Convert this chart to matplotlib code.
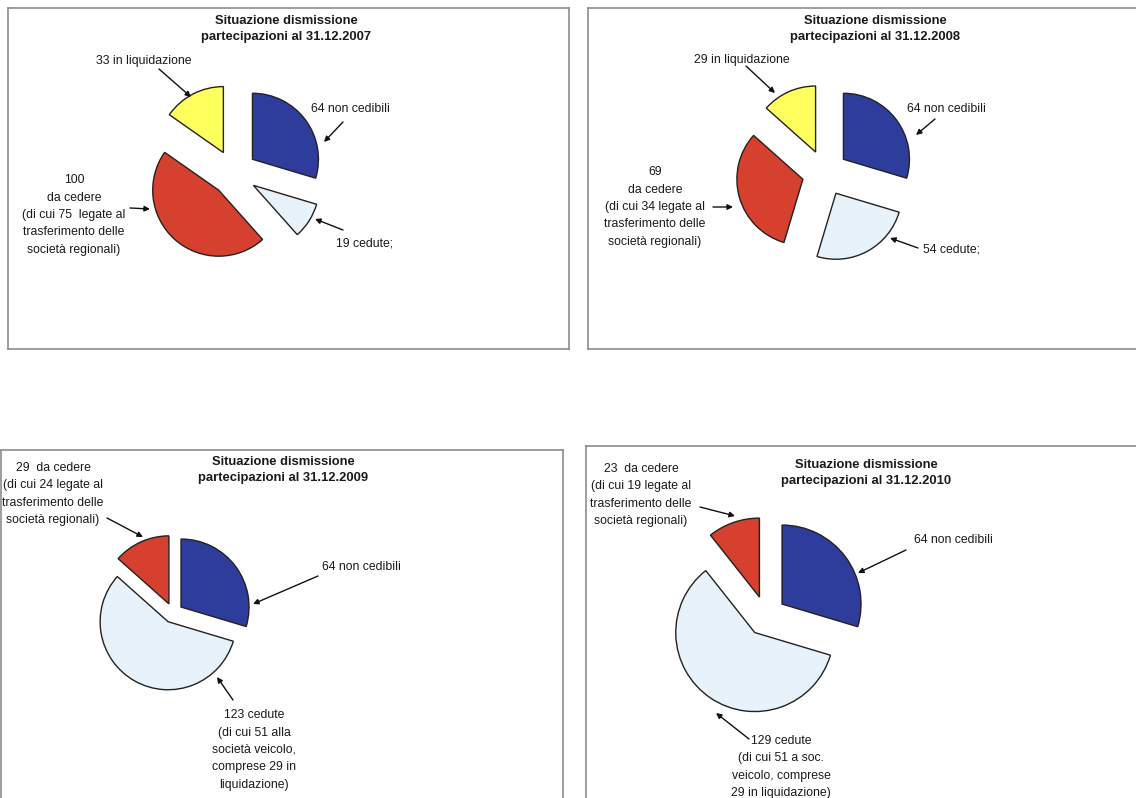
import matplotlib
matplotlib.use('Agg')
import matplotlib.pyplot as plt

plt.rcParams['font.family'] = ['Liberation Sans', 'DejaVu Sans']

W, H = 1136, 798

# data
years = ['2007', '2008', '2009', '2010']
non_cedibili = [64, 64, 64, 64]
cedute = [19, 54, 123, 129]
da_cedere = [100, 69, 29, 23]
in_liquidazione = [33, 29, 0, 0]

colors = ['#2E3D9C', '#E8F2FA', '#D6402E', '#FFFF5E']

label_non = ['64 non cedibili'] * 4
label_cedute = [
    '19 cedute;',
    '54 cedute;',
    '123 cedute\n(di cui 51 alla\nsocietà veicolo,\ncomprese 29 in\nliquidazione)',
    '129 cedute\n(di cui 51 a soc.\nveicolo, comprese\n29 in liquidazione)',
]
label_cedere = [
    '100\nda cedere\n(di cui 75  legate al\ntrasferimento delle\nsocietà regionali)',
    '69\nda cedere\n(di cui 34 legate al\ntrasferimento delle\nsocietà regionali)',
    '29  da cedere\n(di cui 24 legate al\ntrasferimento delle\nsocietà regionali)',
    '23  da cedere\n(di cui 19 legate al\ntrasferimento delle\nsocietà regionali)',
]
label_liq = ['33 in liquidazione', '29 in liquidazione', '', '']

# layout in pixels: panel box, pie centre, radius, explode offset
boxes = [(8, 8, 569, 349), (588, 8, 1140, 349),
         (1, 450, 563, 805), (586, 446, 1140, 805)]
centers = [(234, 173), (825, 173), (173, 613), (766, 616)]
radii = [66, 66, 68, 79]
offsets = [23, 23, 10, 20]
title_pos = [(286, 29), (875, 29), (283, 470), (866, 473)]

# label text position, arrow start, arrow end
pos_non = [((350, 109), (343, 122), (324, 142)),
           ((946, 109), (935, 119), (916, 135)),
           ((361, 567), (318, 576), (253, 604)),
           ((953, 540), (906, 550), (858, 573))]
pos_cedute = [((365, 244), (343, 230), (315, 219)),
              ((951, 249), (918, 248), (890, 238)),
              ((254, 750), (233, 700), (217, 677)),
              ((781, 767), (749, 739), (716, 713))]
pos_cedere = [((74, 215), (130, 208), (150, 209)),
              ((655, 207), (713, 207), (733, 207)),
              ((53, 494), (107, 518), (143, 537)),
              ((641, 495), (700, 507), (735, 516))]
pos_liq = [((144, 61), (159, 69), (191, 97)),
           ((742, 60), (746, 66), (775, 93)),
           None, None]

fig = plt.figure(figsize=(W / 100, H / 100), dpi=100)
fig.patch.set_facecolor('white')

txt = dict(fontsize=8.8, color='#1a1a1a', ha='center', va='center',
           linespacing=1.6)
arrow = dict(arrowstyle='-|>', color='#111111', lw=1.0,
             mutation_scale=8, shrinkA=0, shrinkB=0)


def add_label(ax, text, pos):
    (tx, ty), (ax0, ay0), (ax1, ay1) = pos
    ax.text(tx, ty, text, **txt)
    ax.annotate('', xy=(ax1, ay1), xytext=(ax0, ay0), arrowprops=arrow)


for i, year in enumerate(years):
    x0, y0, x1, y1 = boxes[i]
    ax = fig.add_axes([x0 / W, 1 - y1 / H, (x1 - x0) / W, (y1 - y0) / H])

    vals = [non_cedibili[i], cedute[i], da_cedere[i], in_liquidazione[i]]
    keep = [k for k, v in enumerate(vals) if v > 0]
    ax.pie([vals[k] for k in keep],
           colors=[colors[k] for k in keep],
           explode=[offsets[i]] * len(keep),
           startangle=-90, counterclock=True,
           radius=radii[i], center=centers[i], frame=True,
           wedgeprops=dict(edgecolor='#222222', linewidth=1.0))

    # y axis inverted so data units are picture pixels
    ax.set_xlim(x0, x1)
    ax.set_ylim(y1, y0)
    ax.set_aspect('auto')
    ax.set_xticks([])
    ax.set_yticks([])
    for s in ax.spines.values():
        s.set_color('#8c8c8c')
        s.set_linewidth(1.2)

    ax.text(title_pos[i][0], title_pos[i][1],
            'Situazione dismissione\npartecipazioni al 31.12.' + year,
            fontsize=9.4, fontweight='bold', color='#1a1a1a',
            ha='center', va='center', linespacing=1.45)

    add_label(ax, label_non[i], pos_non[i])
    add_label(ax, label_cedute[i], pos_cedute[i])
    add_label(ax, label_cedere[i], pos_cedere[i])
    if pos_liq[i] is not None:
        add_label(ax, label_liq[i], pos_liq[i])

fig.savefig('out.png', dpi=100, facecolor='white')
